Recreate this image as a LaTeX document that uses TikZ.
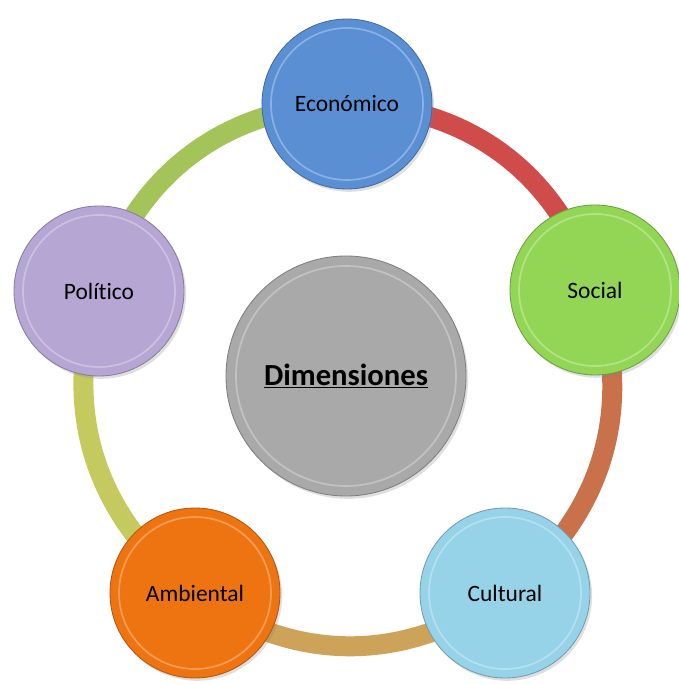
\documentclass[tikz,border=0pt]{standalone}
\usepackage{fontspec}
\setmainfont{Carlito}[Ligatures=NoCommon]
\usetikzlibrary{shadows}

\definecolor{ecoblue}{HTML}{5B8FD3}
\definecolor{socgreen}{HTML}{93D656}
\definecolor{culblue}{HTML}{96D3E8}
\definecolor{ambor}{HTML}{EE7411}
\definecolor{pollav}{HTML}{B5A6D4}
\definecolor{dimgray}{HTML}{A9A9A9}
\definecolor{ringred}{HTML}{CF4C4B}
\definecolor{ringbrown}{HTML}{C9714B}
\definecolor{ringtan}{HTML}{CDA35A}
\definecolor{ringolive}{HTML}{C5CA5E}
\definecolor{ringgreen}{HTML}{A4C45A}

\begin{document}
\begin{tikzpicture}
	\tikzset{dim/.style={circle,minimum size=4.25cm,inner sep=0pt,draw=#1!75!black,line width=0.6pt,fill=#1,
			drop shadow={shadow xshift=1.5pt,shadow yshift=-2pt,opacity=0.25},
			font=\fontsize{16.7}{20}\selectfont},
		rim/.style={white,opacity=0.3,line width=1.2pt},
		ring/.style={line width=0.5cm,draw=#1}}
	
	% Size of the circles
	\def\rsmall{1.9}
	\def\rbig{2.75}
	
	\useasboundingbox (-8.7,-7.75) rectangle (8.25,9.35);
	
	% Positions of the five dimensions
	\coordinate (peco) at (-0.025,6.75);
	\coordinate (psoc) at (6.175,2.1);
	\coordinate (pcul) at (3.925,-5.475);
	\coordinate (pamb) at (-3.825,-5.475);
	\coordinate (ppol) at (-6.225,2.075);
	
	% Ring between the circles
	\draw[ring=ringred] (peco) to[bend left=36] (psoc);
	\draw[ring=ringbrown] (psoc) to[bend left=36] (pcul);
	\draw[ring=ringtan] (pcul) to[bend left=36] (pamb);
	\draw[ring=ringolive] (pamb) to[bend left=36] (ppol);
	\draw[ring=ringgreen] (ppol) to[bend left=36] (peco);
	
	% Center circle
	\node[dim=dimgray,minimum size=6cm,font=\fontsize{21.8}{26}\selectfont\bfseries] (dimen) at (-0.05,-0.05) {\underline{Dimensiones}};
	\draw[rim] (dimen.center) circle (\rbig);
	
	% Outer circles
	\node[dim=ecoblue] (eco) at (peco) {Económico};
	\node[dim=socgreen] (soc) at (psoc) {Social};
	\node[dim=culblue] (cul) at (pcul) {Cultural};
	\node[dim=ambor] (amb) at (pamb) {Ambiental};
	\node[dim=pollav] (pol) at (ppol) {Político};
	
	\foreach \n in {eco,soc,cul,amb,pol}
	{
		\draw[rim] (\n.center) circle (\rsmall); % highlight of the rim
	}
\end{tikzpicture}
\end{document}
